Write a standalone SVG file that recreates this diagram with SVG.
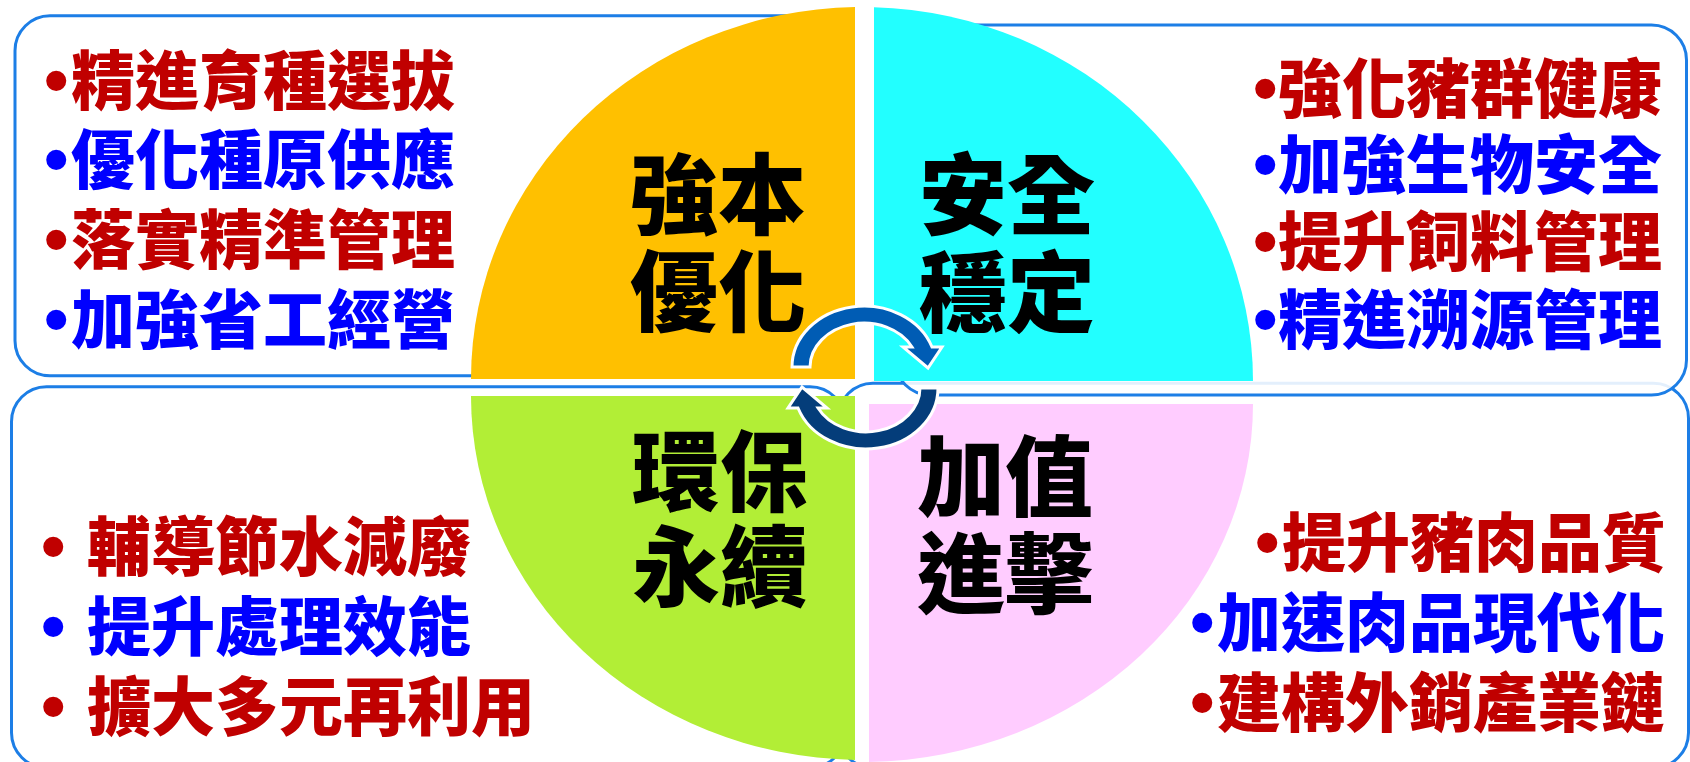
<svg xmlns="http://www.w3.org/2000/svg" width="1690" height="762" viewBox="0 0 1690 762">
<style>
.box{fill:#fff;stroke:#1C7EE6;stroke-width:3}
.lst{font-family:"Noto Sans CJK TC","Noto Sans CJK SC",sans-serif;font-weight:900;font-size:64px}
.bul{font-family:"Liberation Sans",sans-serif;font-weight:700;font-size:70px}
.red{fill:#C00000}
.blue{fill:#0000FF}
.lbl{font-family:"Noto Sans CJK TC","Noto Sans CJK SC",sans-serif;font-weight:900;font-size:88px;fill:#000;text-anchor:middle}
.arr{stroke:#fff;stroke-width:3;stroke-linejoin:miter}
</style>
<rect width="1690" height="762" fill="#fff"/>
<g id="box-top-left"><rect class="box" x="15" y="15.7" width="836" height="360" rx="35"/></g>
<g id="box-bottom-left"><rect class="box" x="11.5" y="386.7" width="833.5" height="381" rx="35"/></g>
<g id="box-bottom-right"><rect class="box" x="838" y="383.3" width="850.5" height="384.5" rx="35"/></g>
<g id="box-top-right"><rect class="box" x="895" y="25" width="791.5" height="370" rx="35" fill-opacity="0.88"/></g>

<g id="q-orange"><path d="M471 379 A391 372 0 0 1 855 7.06 L855 379 Z" fill="#FFC000"/></g>
<g id="q-cyan"><path d="M874 381 L874 7.18 A391 374 0 0 1 1253 381 Z" fill="#22FFFF"/></g>
<g id="q-green"><path d="M471 396 L855 396 L855 759.9 A391 364 0 0 1 471 396 Z" fill="#B2EE36"/></g>
<g id="q-pink"><path d="M869 404 L1253 404 A391 358 0 0 1 869 762 Z" fill="#FFCCFF"/></g>

<g id="connectors">
<path class="arr" d="M792 367 A72 61 0 0 1 932 347 L942 347 L928 368 L903 347 L912 347 A54 44 0 0 0 810 367 Z" fill="#005CB4"/>
<path class="arr" d="M792 367 A72 61 0 0 1 932 347 L942 347 L928 368 L903 347 L912 347 A54 44 0 0 0 810 367 Z" fill="#043D7A" transform="rotate(180 865 377.5)"/>
</g>

<g id="label-qiangben"><text class="lbl"><tspan x="718" y="227">強本</tspan><tspan x="718" y="324">優化</tspan></text></g>
<g id="label-anquan"><text class="lbl"><tspan x="1007" y="227">安全</tspan><tspan x="1007" y="325">穩定</tspan></text></g>
<g id="label-huanbao"><text class="lbl"><tspan x="720" y="504">環保</tspan><tspan x="720" y="599">永續</tspan></text></g>
<g id="label-jiazhi"><text class="lbl"><tspan x="1005" y="509">加值</tspan><tspan x="1005" y="606">進擊</tspan></text></g>

<g id="list-top-left" class="lst">
<text class="red" y="104"><tspan class="bul" x="44">•</tspan><tspan x="71">精進育種選拔</tspan></text>
<text class="blue" y="183"><tspan class="bul" x="44">•</tspan><tspan x="71">優化種原供應</tspan></text>
<text class="red" y="263"><tspan class="bul" x="44">•</tspan><tspan x="71">落實精準管理</tspan></text>
<text class="blue" y="343"><tspan class="bul" x="44">•</tspan><tspan x="71">加強省工經營</tspan></text>
</g>
<g id="list-top-right" class="lst">
<text class="red" y="112"><tspan class="bul" x="1253">•</tspan><tspan x="1278">強化豬群健康</tspan></text>
<text class="blue" y="188"><tspan class="bul" x="1253">•</tspan><tspan x="1278">加強生物安全</tspan></text>
<text class="red" y="265"><tspan class="bul" x="1253">•</tspan><tspan x="1278">提升飼料管理</tspan></text>
<text class="blue" y="343"><tspan class="bul" x="1253">•</tspan><tspan x="1278">精進溯源管理</tspan></text>
</g>
<g id="list-bottom-left" class="lst">
<text class="red" y="570"><tspan class="bul" x="41">•</tspan><tspan x="87">輔導節水減廢</tspan></text>
<text class="blue" y="650"><tspan class="bul" x="41">•</tspan><tspan x="87">提升處理效能</tspan></text>
<text class="red" y="730"><tspan class="bul" x="41">•</tspan><tspan x="87">擴大多元再利用</tspan></text>
</g>
<g id="list-bottom-right" class="lst">
<text class="red" y="566"><tspan class="bul" x="1255">•</tspan><tspan x="1282">提升豬肉品質</tspan></text>
<text class="blue" y="646"><tspan class="bul" x="1190">•</tspan><tspan x="1217">加速肉品現代化</tspan></text>
<text class="red" y="726"><tspan class="bul" x="1190">•</tspan><tspan x="1217">建構外銷產業鏈</tspan></text>
</g>
</svg>
